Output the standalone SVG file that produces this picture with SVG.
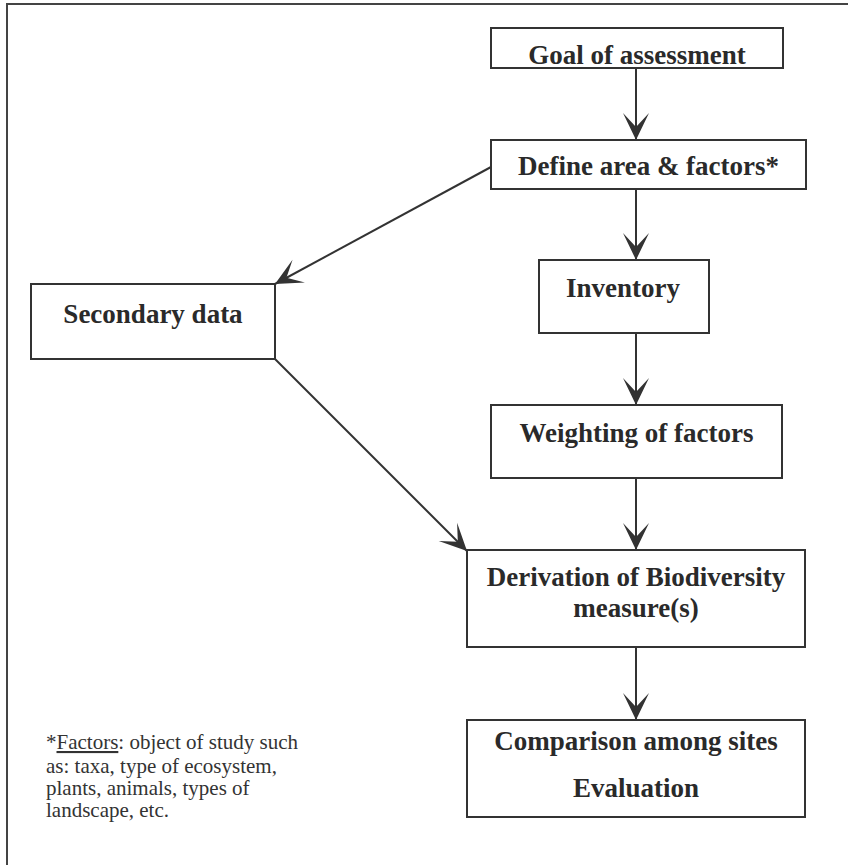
<svg xmlns="http://www.w3.org/2000/svg" width="848" height="865" viewBox="0 0 848 865">
<style>
.box{fill:#fff;stroke:#333;stroke-width:2}
.lbl{font-family:"Liberation Serif","Times New Roman",serif;font-weight:bold;font-size:27px;fill:#2a2a2a;text-anchor:middle}
.note{font-family:"Liberation Serif","Times New Roman",serif;font-size:21px;fill:#333}
.edge{stroke:#333;stroke-width:2;fill:none;marker-end:url(#arr)}
</style>
<defs>
<marker id="arr" viewBox="-28 -14 30 28" markerWidth="30" markerHeight="28" refX="0" refY="0" orient="auto" markerUnits="userSpaceOnUse">
<path d="M0,0 L-27,-13 L-13,0 L-27,13 Z" fill="#333"/>
</marker>
</defs>
<rect width="848" height="865" fill="#fff"/>
<path d="M7,865 L7,4 L848,4" fill="none" stroke="#444" stroke-width="2"/>
<g id="connectors">
<line class="edge" x1="636" y1="68" x2="636" y2="140"/>
<line class="edge" x1="636" y1="189" x2="636" y2="260"/>
<line class="edge" x1="491" y1="167" x2="275" y2="284"/>
<line class="edge" x1="636" y1="333" x2="636" y2="405"/>
<line class="edge" x1="636" y1="478" x2="636" y2="550"/>
<line class="edge" x1="275" y1="359" x2="467" y2="551"/>
<line class="edge" x1="636" y1="647" x2="636" y2="720"/>
</g>
<g id="goal"><rect class="box" x="491" y="28" width="292" height="40"/><text class="lbl" x="637" y="64">Goal of assessment</text></g>
<g id="define"><rect class="box" x="491" y="140" width="315" height="49"/><text class="lbl" x="648.5" y="175">Define area &amp; factors*</text></g>
<g id="inventory"><rect class="box" x="539" y="260" width="170" height="73"/><text class="lbl" x="623" y="297">Inventory</text></g>
<g id="secondary"><rect class="box" x="31" y="284" width="244" height="75"/><text class="lbl" x="153" y="323">Secondary data</text></g>
<g id="weighting"><rect class="box" x="491" y="405" width="291" height="73"/><text class="lbl" x="636.5" y="442">Weighting of factors</text></g>
<g id="derivation"><rect class="box" x="467" y="550" width="338" height="97"/><text class="lbl" x="636" y="586">Derivation of Biodiversity</text><text class="lbl" x="636" y="617">measure(s)</text></g>
<g id="comparison"><rect class="box" x="467" y="720" width="338" height="97"/><text class="lbl" x="636" y="750">Comparison among sites</text><text class="lbl" x="636" y="797">Evaluation</text></g>
<g id="footnote">
<text class="note" x="46" y="749">*<tspan text-decoration="underline">Factors</tspan>: object of study such</text>
<text class="note" x="46" y="773">as: taxa, type of ecosystem,</text>
<text class="note" x="46" y="795">plants, animals, types of</text>
<text class="note" x="46" y="817">landscape, etc.</text>
</g>
</svg>
